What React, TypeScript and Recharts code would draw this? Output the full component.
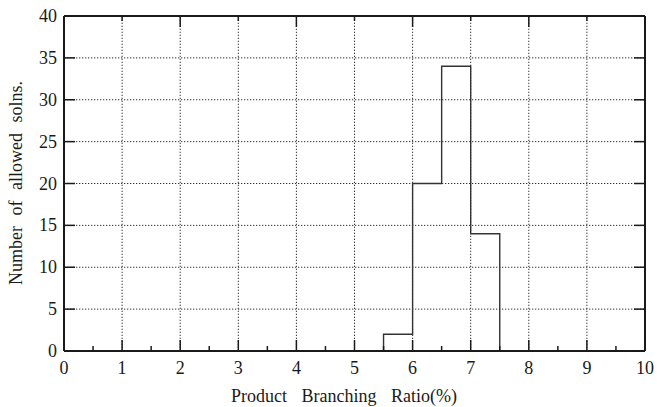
import { ComposedChart, Line, ReferenceLine, XAxis, YAxis } from "recharts";

// histogram bins
const binStarts = [5.5, 6.0, 6.5, 7.0];
const binCounts = [2, 20, 34, 14];
const binWidth = 0.5;

const xMajorTicks = [0, 1, 2, 3, 4, 5, 6, 7, 8, 9, 10];
const xMinorTicks = [0.5, 1.5, 2.5, 3.5, 4.5, 5.5, 6.5, 7.5, 8.5, 9.5];
const yTicks = [0, 5, 10, 15, 20, 25, 30, 35, 40];
const xGrid = [1, 2, 3, 4, 5, 6, 7, 8, 9];
const yGrid = [5, 10, 15, 20, 25, 30, 35];

const stepData = [
  { x: binStarts[0], y: 0 },
  ...binStarts.map((x, i) => ({ x, y: binCounts[i] })),
  { x: binStarts[binStarts.length - 1] + binWidth, y: 0 },
];

const FONT = '"Liberation Serif", "Times New Roman", Times, serif';
const INK = "#1a1a1a";
const MAJOR = 11;
const MINOR = 5;
const frame = { stroke: INK, strokeWidth: 2 };
const xTicks = [...xMajorTicks, ...xMinorTicks].sort((a, b) => a - b);
const textStyle = { fontFamily: FONT, fontSize: 18 };

function BottomTick({ x, y, payload }: any) {
  const major = Number.isInteger(payload.value);
  return (
    <g>
      <line x1={x} x2={x} y1={y} y2={y - (major ? MAJOR : MINOR)} stroke={INK} strokeWidth={1.5} />
      {major && (
        <text x={x} y={y + 23} textAnchor="middle" fill={INK} style={textStyle}>
          {payload.value}
        </text>
      )}
    </g>
  );
}

function TopTick({ x, y, payload }: any) {
  const major = Number.isInteger(payload.value);
  return <line x1={x} x2={x} y1={y} y2={y + (major ? MAJOR : MINOR)} stroke={INK} strokeWidth={1.5} />;
}

function LeftTick({ x, y, payload }: any) {
  return (
    <g>
      <line x1={x} x2={x + MAJOR} y1={y} y2={y} stroke={INK} strokeWidth={1.5} />
      <text x={x - 7} y={y + 6} textAnchor="end" fill={INK} style={textStyle}>
        {payload.value}
      </text>
    </g>
  );
}

function RightTick({ x, y }: any) {
  return <line x1={x} x2={x - MAJOR} y1={y} y2={y} stroke={INK} strokeWidth={1.5} />;
}

export default function App() {
  return (
    <div style={{ position: "absolute", left: 0, top: 0, background: "#fff", fontFamily: FONT }}>
      <ComposedChart width={657} height={407} data={stepData} margin={{ top: 0, right: 0, bottom: 0, left: 0 }}>
        {xGrid.map((v) => (
          <ReferenceLine key={"gx" + v} xAxisId="bottom" yAxisId="left" x={v} stroke="#333" strokeWidth={1} strokeDasharray="1.3 1.7" />
        ))}
        {yGrid.map((v) => (
          <ReferenceLine key={"gy" + v} xAxisId="bottom" yAxisId="left" y={v} stroke="#333" strokeWidth={1} strokeDasharray="1.3 1.7" />
        ))}
        <XAxis
          xAxisId="bottom"
          dataKey="x"
          type="number"
          domain={[0, 10]}
          allowDataOverflow
          ticks={xTicks}
          interval={0}
          height={56}
          tickSize={0}
          tickMargin={0}
          tickLine={false}
          axisLine={frame}
          tick={BottomTick}
          label={{
            content: () => (
              <text x={231} y={402} textAnchor="start" fill={INK} style={{ ...textStyle, wordSpacing: "10px" }}>
                Product Branching Ratio(%)
              </text>
            ),
          }}
        />
        <XAxis
          xAxisId="top"
          orientation="top"
          type="number"
          domain={[0, 10]}
          allowDataOverflow
          ticks={xTicks}
          interval={0}
          height={16}
          tickSize={0}
          tickMargin={0}
          tickLine={false}
          axisLine={frame}
          tick={TopTick}
        />
        <YAxis
          yAxisId="left"
          type="number"
          domain={[0, 40]}
          allowDataOverflow
          ticks={yTicks}
          interval={0}
          width={64}
          tickSize={0}
          tickMargin={0}
          tickLine={false}
          axisLine={frame}
          tick={LeftTick}
          label={{
            content: () => (
              <text
                x={22}
                y={285}
                transform="rotate(-90, 22, 285)"
                textAnchor="start"
                fill={INK}
                style={{ ...textStyle, wordSpacing: "6px" }}
              >
                Number of allowed solns.
              </text>
            ),
          }}
        />
        <YAxis
          yAxisId="right"
          orientation="right"
          type="number"
          domain={[0, 40]}
          allowDataOverflow
          ticks={yTicks}
          interval={0}
          width={12}
          tickSize={0}
          tickMargin={0}
          tickLine={false}
          axisLine={frame}
          tick={RightTick}
        />
        <Line
          xAxisId="bottom"
          yAxisId="left"
          type="stepAfter"
          dataKey="y"
          stroke="#333"
          strokeWidth={1.4}
          dot={false}
          activeDot={false}
          isAnimationActive={false}
        />
      </ComposedChart>
    </div>
  );
}
